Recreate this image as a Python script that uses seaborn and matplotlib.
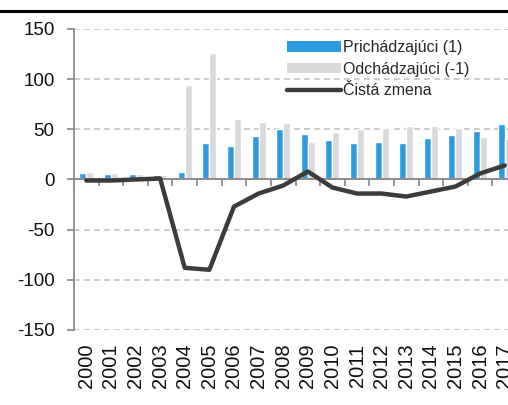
import numpy as np
import pandas as pd
import matplotlib
matplotlib.use("Agg")
import matplotlib.pyplot as plt
from matplotlib.lines import Line2D
from matplotlib.patches import Patch
import seaborn as sns

years = [str(y) for y in range(2000, 2018)]
incoming = [6, 5, 5, 4, 7, 36, 33, 43, 50, 45, 39, 36, 37, 36, 41, 44, 48, 55]
outgoing = [7, 6, 5, 4, 94, 126, 60, 57, 56, 37, 47, 50, 51, 53, 53, 51, 42, 40]
net = [-1, -1, 0, 1, -88, -90, -27, -14, -6, 8, -8, -14, -14, -17, -12, -7, 6, 14]

label_in = "Prichádzajúci (1)"
label_out = "Odchádzajúci (-1)"
label_net = "Čistá zmena"

blue = "#2d9be0"
grey = "#d9d9d9"
dark = "#3c3c3c"
axis_grey = "#8c8c8c"

df = pd.DataFrame({
    "year": years * 2,
    "value": incoming + outgoing,
    "series": [label_in] * len(years) + [label_out] * len(years),
})

sns.set_style("white")
plt.rcParams["font.family"] = ["Liberation Sans", "DejaVu Sans"]
plt.rcParams["axes.unicode_minus"] = False

fig = plt.figure(figsize=(5.08, 4.05), dpi=100)
ax = fig.add_axes([74 / 508, 75 / 405, 443 / 508, 301 / 405])

sns.barplot(data=df, x="year", y="value", hue="series",
            palette=[blue, grey], width=0.57, gap=0, saturation=1,
            legend=False, ax=ax)
sns.lineplot(x=np.arange(len(years)), y=net, color=dark, linewidth=3.2,
             ax=ax)
for line in ax.lines:
    line.set_solid_capstyle("round")
    line.set_zorder(4)

ax.set_xlim(-0.5, len(years) - 0.5)
ax.set_ylim(-150, 150)
ax.set_yticks([-150, -100, -50, 0, 50, 100, 150])
ax.set_xlabel("")
ax.set_ylabel("")

# gridlines
for y in [-150, -100, -50, 50, 100, 150]:
    ax.axhline(y, color="#c4c4c4", linewidth=1.2, linestyle=(0, (3.5, 2.5)),
               zorder=0)
# zero line
ax.axhline(0, color=axis_grey, linewidth=1.3, zorder=3)

for side in ["top", "right"]:
    ax.spines[side].set_visible(False)
ax.spines["left"].set_color(axis_grey)
ax.spines["left"].set_linewidth(1.3)
ax.tick_params(axis="y", left=True, length=5, width=1.3, color=axis_grey,
               labelsize=13.5, pad=9, labelcolor="#111111")

# x axis at zero, ticks between the categories
ax.spines["bottom"].set_position(("data", 0))
ax.spines["bottom"].set_color(axis_grey)
ax.spines["bottom"].set_linewidth(1.3)
ax.set_xticks(np.arange(len(years) + 1) - 0.5)
ax.set_xticklabels([])
ax.tick_params(axis="x", bottom=True, length=5, width=1.3, color=axis_grey)

# year labels below the plot area
for i, yr in enumerate(years):
    ax.text(i, -0.045, yr, transform=ax.get_xaxis_transform(),
            rotation=90, ha="center", va="top", fontsize=14.5,
            color="#111111")

handles = [
    Patch(facecolor=blue, edgecolor="none"),
    Patch(facecolor=grey, edgecolor="none"),
    Line2D([], [], color=dark, linewidth=3.2, solid_capstyle="round"),
]
ax.legend(handles, [label_in, label_out, label_net], loc="upper left",
          bbox_to_anchor=(0.455, 1.0), frameon=False, fontsize=11.5,
          handlelength=3.4, handleheight=0.6, handletextpad=0.1,
          labelspacing=0.4, borderpad=0.2)

fig.add_artist(Line2D([0.0, 1.0], [1 - 11 / 405, 1 - 11 / 405],
                      color="black", linewidth=2.2,
                      transform=fig.transFigure))

fig.savefig("out.png", dpi=100)
